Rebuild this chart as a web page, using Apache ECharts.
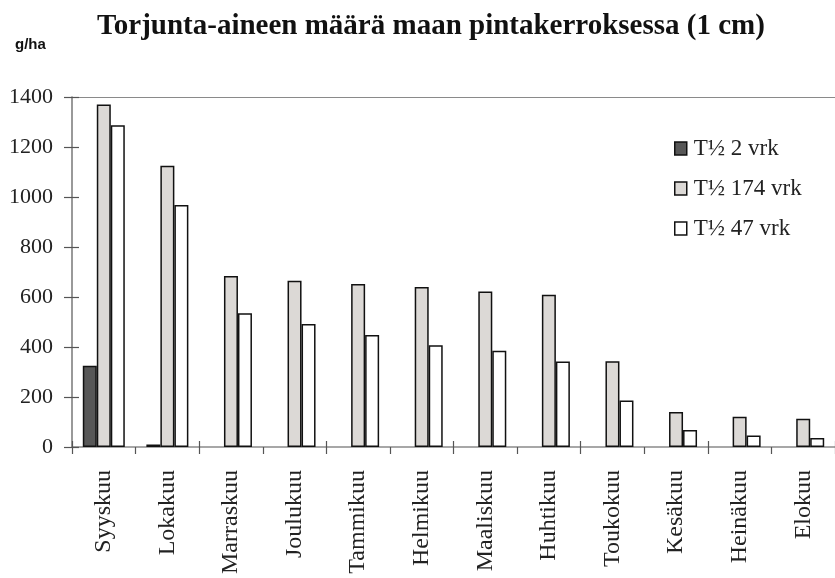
<!DOCTYPE html>
<html>
<head>
<meta charset="utf-8">
<script src="https://cdn.jsdelivr.net/npm/echarts@6/dist/echarts.min.js"></script>
<style>
  html, body { margin: 0; padding: 0; background: #fff; }
  #chart { width: 835px; height: 578px; }
</style>
</head>
<body>
<div id="chart"></div>
<script>
// Kuukaudet
const months = ['Syyskuu', 'Lokakuu', 'Marraskuu', 'Joulukuu', 'Tammikuu', 'Helmikuu',
  'Maaliskuu', 'Huhtikuu', 'Toukokuu', 'Kesäkuu', 'Heinäkuu', 'Elokuu'];

// Sarjojen nimet
const seriesNames = ['T½ 2 vrk', 'T½ 174 vrk', 'T½ 47 vrk'];

// Torjunta-aineen määrä (g/ha) eri puoliintumisajoilla
const halfLife2 = [325, 10, 0, 0, 0, 0, 0, 0, 0, 0, 0, 0];
const halfLife174 = [1370, 1125, 684, 665, 652, 640, 622, 609, 343, 140, 121, 113];
const halfLife47 = [1287, 968, 535, 492, 448, 407, 385, 342, 186, 68, 46, 36];

// Y-akselin asteikko
const yMin = 0, yMax = 1400, yStep = 200;

const serif = '"Liberation Serif", "Times New Roman", serif';
const fills = ['#575757', '#dcd9d6', '#ffffff'];

const chart = echarts.init(document.getElementById('chart'), null, { renderer: 'canvas' });

// Nollapylväille ei piirretä reunaviivaa
function barSeries(name, values, color) {
  return {
    name: name,
    type: 'bar',
    data: values.map(v => v === 0 ? { value: v, itemStyle: { borderWidth: 0 } } : v),
    barWidth: 14,
    barGap: '0%',
    itemStyle: { color: color, borderColor: '#111', borderWidth: 1.5 },
    emphasis: { disabled: true }
  };
}

chart.setOption({
  animation: false,
  backgroundColor: '#fff',
  title: [
    {
      text: 'Torjunta-aineen määrä maan pintakerroksessa (1 cm)',
      left: 426, top: 7, textAlign: 'center',
      textStyle: { fontFamily: serif, fontWeight: 'bold', fontSize: 29, color: '#111' }
    },
    {
      text: 'g/ha',
      left: 10, top: 32,
      textStyle: { fontFamily: '"Liberation Sans", Arial, sans-serif', fontWeight: 'bold', fontSize: 15, color: '#111' }
    }
  ],
  legend: {
    orient: 'vertical',
    left: 669, top: 132,
    itemWidth: 12, itemHeight: 13,
    itemGap: 17,
    icon: 'rect',
    data: seriesNames,
    textStyle: { fontFamily: serif, fontSize: 23, color: '#222', padding: [0, 0, 0, 2] },
    itemStyle: { borderColor: '#111', borderWidth: 1.5 }
  },
  grid: { left: 72, right: 0, top: 97, bottom: 131, containLabel: false },
  xAxis: [
    {
      type: 'category',
      data: months,
      position: 'bottom',
      axisLine: { lineStyle: { color: '#8a8a8a', width: 1.5 } },
      axisTick: { show: true, inside: false, length: 7, lineStyle: { color: '#555', width: 1.2 } },
      axisLabel: {
        rotate: 90, margin: 23,
        fontFamily: serif, fontSize: 24, color: '#222'
      },
      splitLine: { show: false }
    },
    {
      type: 'category',
      data: months,
      position: 'bottom',
      axisLine: { show: false },
      axisTick: { show: true, inside: true, length: 6, lineStyle: { color: '#555', width: 1.2 } },
      axisLabel: { show: false },
      splitLine: { show: false }
    },
    {
      type: 'category',
      data: months,
      position: 'top',
      axisLine: { show: true, lineStyle: { color: '#8a8a8a', width: 1.2 } },
      axisTick: { show: false },
      axisLabel: { show: false },
      splitLine: { show: false }
    }
  ],
  yAxis: [
    {
      type: 'value',
      min: yMin, max: yMax, interval: yStep,
      axisLine: { show: true, lineStyle: { color: '#777', width: 1.5 } },
      axisTick: { show: true, inside: false, length: 8, lineStyle: { color: '#555', width: 1.2 } },
      axisLabel: { fontFamily: serif, fontSize: 22, color: '#222', margin: 19, formatter: v => String(v) },
      splitLine: { show: false }
    },
    {
      type: 'value',
      position: 'left',
      min: yMin, max: yMax, interval: yStep,
      axisLine: { show: false },
      axisTick: { show: true, inside: true, length: 7, lineStyle: { color: '#555', width: 1.2 } },
      axisLabel: { show: false },
      splitLine: { show: false }
    }
  ],
  series: [
    barSeries(seriesNames[0], halfLife2, fills[0]),
    barSeries(seriesNames[1], halfLife174, fills[1]),
    barSeries(seriesNames[2], halfLife47, fills[2])
  ]
});
</script>
</body>
</html>
